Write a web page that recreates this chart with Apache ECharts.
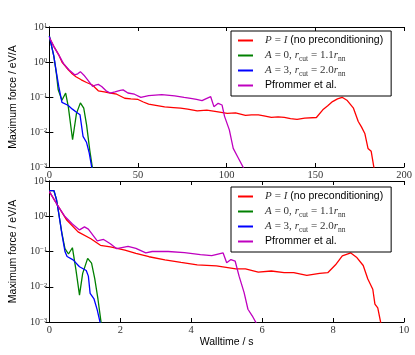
<!DOCTYPE html>
<html>
<head>
<meta charset="utf-8">
<script src="https://cdn.jsdelivr.net/npm/echarts@6/dist/echarts.min.js"></script>
<style>
  html, body { margin: 0; padding: 0; background: #fff; }
  #chart { width: 415px; height: 355px; }
</style>
</head>
<body>
<div id="chart"></div>
<script>
// series names (legend order)
const names = ['red', 'green', 'blue', 'magenta']
const colors = ['#ff0000', '#008000', '#0000ff', '#bf00bf']

// top panel (x 0..200)
const topRed = [[0, 5.0], [2.5, 2.8], [5.3, 1.6], [7.1, 1.0], [10.7, 0.6], [12.5, 0.48], [15, 0.38], [18, 0.31], [21, 0.26],
  [24.3, 0.22], [26, 0.18], [27.6, 0.15], [31, 0.14], [34.3, 0.13], [38, 0.12], [42.5, 0.092], [46, 0.088], [50, 0.085],
  [53, 0.072], [56, 0.063], [60, 0.058], [65, 0.052], [70, 0.05], [74, 0.048], [78, 0.045], [83.4, 0.04], [88.8, 0.042],
  [94.3, 0.038], [100.3, 0.034], [105, 0.035], [110.6, 0.03], [114, 0.031], [117.9, 0.031], [121, 0.029], [125.2, 0.026],
  [129, 0.027], [132.5, 0.026], [136, 0.024], [139.7, 0.023], [144, 0.025], [150.6, 0.026], [154.2, 0.043], [157, 0.056],
  [159.7, 0.074], [162.5, 0.088], [165.1, 0.098], [167.8, 0.081], [171.5, 0.048], [174.2, 0.02], [176, 0.014],
  [177.9, 0.0091], [179.7, 0.0034], [181.5, 0.0028], [183.5, 0.0007]]
const topGreen = [[0, 5.5], [0.8, 5.5], [2.5, 1.5], [4, 0.45], [5, 0.16], [7.1, 0.081], [9.2, 0.13], [10.7, 0.052],
  [13.1, 0.006], [15.3, 0.034], [17.5, 0.068], [19.4, 0.048], [21, 0.016], [22.8, 0.003], [24.5, 0.0008]]
const topBlue = [[0, 5.5], [0.8, 5.5], [2.5, 1.5], [4, 0.5], [5.3, 0.2], [7.1, 0.07], [10.5, 0.058], [13, 0.045],
  [15.5, 0.036], [17.3, 0.031], [19, 0.0075], [21, 0.005], [22.5, 0.0025], [24.2, 0.0008]]
const topMagenta = [[0, 5.0], [2.5, 2.8], [5.3, 1.6], [8, 0.9], [11, 0.6], [14.3, 0.43], [16, 0.46], [17.5, 0.53],
  [19.5, 0.42], [21.6, 0.31], [24.4, 0.2], [26, 0.22], [27.6, 0.23], [29.5, 0.2], [32, 0.15], [34.3, 0.13], [37, 0.14],
  [40, 0.155], [41.6, 0.16], [44.3, 0.13], [48, 0.12], [51.6, 0.098], [56, 0.11], [63.4, 0.117], [70.7, 0.107],
  [76, 0.097], [79.7, 0.091], [83, 0.085], [86.1, 0.079], [88.5, 0.09], [91, 0.102], [92.8, 0.053], [95.2, 0.066],
  [97.4, 0.059], [98.8, 0.028], [101.5, 0.0115], [103.7, 0.0034], [106.1, 0.002], [109.7, 0.0009]]

// bottom panel (walltime / s)
const botRed = [[0, 5.0], [0.26, 1.85], [0.49, 0.78], [0.81, 0.36], [1.17, 0.23], [1.44, 0.15], [1.72, 0.135],
  [2.13, 0.11], [2.44, 0.089], [2.81, 0.071], [3.26, 0.058], [3.71, 0.049], [4.17, 0.042], [4.71, 0.039], [5.26, 0.032],
  [5.53, 0.032], [5.89, 0.026], [6.26, 0.028], [6.62, 0.025], [6.89, 0.025], [7.26, 0.021], [7.62, 0.024], [7.85, 0.025],
  [8.07, 0.042], [8.26, 0.075], [8.5, 0.091], [8.66, 0.069], [8.85, 0.04], [8.98, 0.0166], [9.12, 0.0085],
  [9.18, 0.0032], [9.26, 0.0025], [9.36, 0.0008]]
const botGreen = [[0, 5.3], [0.13, 5.3], [0.2, 3], [0.26, 1.3], [0.35, 0.35], [0.44, 0.12], [0.54, 0.085], [0.65, 0.128],
  [0.75, 0.03], [0.85, 0.0058], [0.94, 0.024], [1.08, 0.064], [1.19, 0.047], [1.28, 0.017], [1.37, 0.0045], [1.47, 0.0008]]
const botBlue = [[0, 5.3], [0.13, 5.3], [0.2, 3], [0.26, 1.3], [0.35, 0.33], [0.44, 0.1], [0.5, 0.072], [0.67, 0.058],
  [0.85, 0.037], [1.04, 0.029], [1.1, 0.02], [1.15, 0.0065], [1.26, 0.0045], [1.35, 0.0022], [1.45, 0.0008]]
const botMagenta = [[0, 5.0], [0.26, 1.85], [0.44, 0.98], [0.65, 0.6], [0.85, 0.41], [0.99, 0.5], [1.1, 0.43],
  [1.35, 0.2], [1.53, 0.22], [1.72, 0.166], [1.9, 0.12], [2.22, 0.14], [2.44, 0.123], [2.72, 0.091], [2.9, 0.1],
  [3.35, 0.1], [3.81, 0.093], [4.26, 0.081], [4.58, 0.076], [4.9, 0.091], [5.0, 0.048], [5.12, 0.059], [5.24, 0.053],
  [5.35, 0.02], [5.49, 0.0069], [5.6, 0.0023], [5.72, 0.0015], [5.87, 0.0008]]

const legendText = {
  red: '{i|P} {r|=} {i|I} (no preconditioning)',
  green: '{i|A} {r|= 0,} {i|r}{b|cut} {r|= 1.1}{i|r}{b|nn}',
  blue: '{i|A} {r|= 3,} {i|r}{b|cut} {r|= 2.0}{i|r}{b|nn}',
  magenta: 'Pfrommer et al.'
}

const serif = 'Liberation Serif'
const sans = 'Liberation Sans'

function expLabel(v) {
  const e = Math.round(Math.log10(v))
  return '10{s|' + (e < 0 ? '\u2212' + (-e) : e) + '}'
}

function xAxes(gridIndex, max, interval, name) {
  const base = {
    type: 'value', gridIndex: gridIndex, min: 0, max: max, interval: interval,
    splitLine: { show: false },
    axisLine: { onZero: false, lineStyle: { color: '#000', width: 1 } },
    axisTick: { inside: true, length: 4, lineStyle: { color: '#000' } }
  }
  return [
    Object.assign({}, base, {
      position: 'bottom',
      axisLabel: { margin: 3, fontFamily: serif, fontSize: 10.5, color: '#333' },
      name: name, nameLocation: 'middle', nameGap: 14,
      nameTextStyle: { fontFamily: sans, fontSize: 10.5, color: '#000' }
    }),
    Object.assign({}, base, { position: 'top', axisLabel: { show: false } })
  ]
}

function yAxes(gridIndex) {
  const base = {
    type: 'log', logBase: 10, gridIndex: gridIndex, min: 0.001, max: 10, splitNumber: 4,
    splitLine: { show: false },
    minorTick: { show: false },
    axisLine: { lineStyle: { color: '#000', width: 1 } },
    axisTick: { inside: true, length: 4, lineStyle: { color: '#000' } }
  }
  return [
    Object.assign({}, base, {
      position: 'left',
      axisLabel: {
        margin: 2, fontFamily: serif, fontSize: 10, color: '#333', formatter: expLabel,
        rich: { s: { fontFamily: serif, fontSize: 7, color: '#333', verticalAlign: 'top', padding: [0, 0, 4, 0] } }
      },
      name: 'Maximum force / eV/A', nameLocation: 'middle', nameGap: 26, nameRotate: 90,
      nameTextStyle: { fontFamily: sans, fontSize: 10.5, color: '#000' }
    }),
    Object.assign({}, base, { position: 'right', axisLabel: { show: false } })
  ]
}

function legendFor(top) {
  return {
    orient: 'vertical', left: 231, top: top, itemGap: 0,
    icon: 'rect', itemWidth: 15, itemHeight: 2,
    padding: [2, 8, 3, 7],
    borderColor: '#000', borderWidth: 1, backgroundColor: '#fff',
    data: names, selectedMode: false,
    formatter: function (n) { return legendText[n] },
    textStyle: {
      fontFamily: sans, fontSize: 10.5, color: '#000', lineHeight: 15, padding: [0, 0, 0, 7],
      rich: {
        i: { fontFamily: serif, fontStyle: 'italic', fontSize: 11, color: '#333' },
        r: { fontFamily: serif, fontSize: 11, color: '#333' },
        b: { fontFamily: serif, fontSize: 7.5, color: '#333', verticalAlign: 'bottom', padding: [4, 0, 0, 0] }
      }
    }
  }
}

const panels = [topRed, topGreen, topBlue, topMagenta]
const panels2 = [botRed, botGreen, botBlue, botMagenta]
const series = []
names.forEach(function (n, i) {
  series.push({ name: n, type: 'line', xAxisIndex: 0, yAxisIndex: 0, data: panels[i] })
  series.push({ name: n, type: 'line', xAxisIndex: 2, yAxisIndex: 2, data: panels2[i] })
})
series.forEach(function (s) {
  s.symbol = 'none'
  s.clip = true
  s.lineStyle = { width: 1.3, color: colors[names.indexOf(s.name)] }
  s.itemStyle = { color: colors[names.indexOf(s.name)] }
})

const chart = echarts.init(document.getElementById('chart'), null, { renderer: 'canvas' })
chart.setOption({
  animation: false,
  backgroundColor: '#fff',
  color: colors,
  grid: [
    { left: 37, top: 27, width: 367, height: 140 },
    { left: 37, top: 181, width: 367, height: 141 }
  ],
  xAxis: xAxes(0, 200, 50, '').concat(xAxes(1, 10, 2, 'Walltime / s')),
  yAxis: yAxes(0).concat(yAxes(1)),
  legend: [legendFor(31), legendFor(187)],
  series: series
})
</script>
</body>
</html>
